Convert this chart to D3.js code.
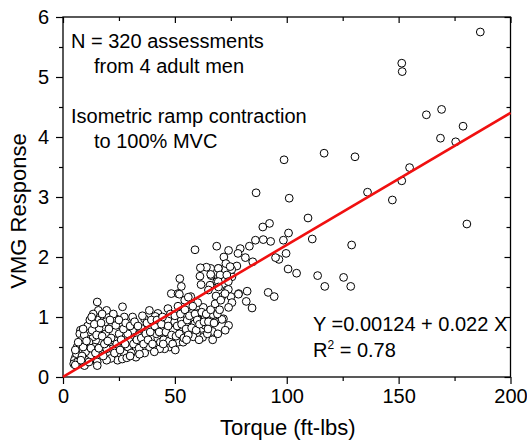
<!DOCTYPE html>
<html>
<head>
<meta charset="utf-8">
<script src="https://cdn.jsdelivr.net/npm/d3@7/dist/d3.min.js"></script>
<style>
  html, body { margin: 0; padding: 0; background: #fff; }
  svg { display: block; }
  text { font-family: Arial, "Liberation Sans", Helvetica, sans-serif; fill: #000; }
</style>
</head>
<body>
<svg id="chart" width="527" height="442"></svg>
<script>
// ---- data (torque in ft-lbs, VMG response) ----
const torque = [
  186.5,151.4,151.6,162.4,169.2,178.8,168.7,175.5,154.9,151.4,147.2,180.5,136.1,130.5,116.7,98.8,86.3,101.1,109.5,111.4,
  129.0,113.8,117.0,125.4,128.6,104.4,100.6,99.7,100.8,98.5,
  96.5,95.0,91.7,94.4,92.3,89.3,92.8,89.5,86.0,83.3,84.8,81.5,79.2,78.2,77.7,75.5,74.0,71.9,68.7,59.0,
  72.8,69.5,66.0,64.1,61.4,61.2,66.2,68.7,61.7,65.7,82.3,78.5,81.9,84.5,73.2,75.0,75.5,74.0,71.0,68.4,
  71.7,74.0,72.5,71.0,67.1,66.8,66.9,62.7,63.5,62.0,62.4,60.2,57.0,55.9,57.1,52.2,52.9,48.4,51.4,54.4,
  51.4,46.9,42.4,38.6,41.2,46.9,49.9,52.9,57.4,58.9,58.2,53.7,49.2,45.4,51.4,53.7,47.7,45.4,43.2,46.2,
  42.4,41.7,40.2,37.9,38.6,38.6,36.4,34.9,33.4,32.6,32.6,31.1,31.1,28.9,28.9,27.4,26.6,27.4,25.9,25.1,
  23.6,23.6,22.9,24.4,21.4,22.1,19.5,19.1,19.1,19.5,19.5,16.8,16.8,15.3,15.8,15.3,16.1,14.6,15.3,15.3,
  13.1,13.5,13.8,12.3,11.6,11.6,10.1,10.1,7.8,7.5,8.1,6.3,5.6,5.1,4.8,7.1,7.8,9.6,11.6,6.0,
  75.4,69.4,70.2,73.2,66.0,69.4,73.9,56.0,73.9,78.4,72.4,52.0,74.7,69.5,65.0,55.9,60.5,63.5,59.7,58.2,
  68.0,69.2,
  20.5,21.5,22.5,24.0,25.0,26.0,27.0,28.0,29.5,30.0,30.5,31.5,32.0,33.0,33.5,34.0,35.0,35.5,36.0,37.0,
  37.5,38.0,39.0,39.5,40.0,41.0,42.0,43.0,43.5,44.0,44.5,45.0,46.0,47.0,47.5,48.0,48.5,49.0,50.0,50.5,
  51.0,52.0,52.5,53.0,54.0,54.5,55.0,55.5,56.0,56.5,57.5,58.0,59.0,59.5,60.0,61.0,62.0,63.0,64.0,64.5,
  65.0,66.0,67.5,68.0,69.0,70.0,70.5,
  5.5,6.5,8.5,9.0,9.5,10.5,11.0,12.0,12.5,13.0,14.0,14.5,15.0,16.0,17.0,17.5,18.0,18.5,20.0,21.0,
  17.5,13.5,23.0,25.5,26.5,28.5,30.0,5.5,8.0,6.8,9.0,12.8,
  36.5,40.8,44.8,50.2,55.2,60.8,64.8,34.2,27.8
];
const vmg = [
  5.75,5.23,5.09,4.37,4.46,4.18,3.98,3.92,3.49,3.27,2.95,2.55,3.08,3.67,3.73,3.62,3.07,2.98,2.65,2.30,
  2.20,1.69,1.51,1.66,1.51,1.73,1.80,2.06,2.40,2.28,
  1.96,1.99,1.41,1.34,2.56,2.50,2.26,2.29,2.28,2.18,1.92,1.99,2.14,2.06,1.85,1.67,2.11,2.00,2.18,2.12,
  1.89,1.81,1.81,1.83,1.82,1.68,1.69,1.59,1.54,1.53,1.43,1.39,1.26,1.15,1.45,1.34,1.24,1.16,1.34,1.35,
  0.97,0.86,0.78,0.96,1.04,0.76,0.62,1.16,1.00,0.81,0.66,1.24,1.09,1.29,1.34,1.64,1.51,1.39,1.39,1.28,
  1.18,1.14,1.06,1.11,1.01,0.95,0.92,0.95,0.95,0.89,0.72,0.78,0.78,0.81,0.58,0.58,0.50,0.47,0.47,0.67,
  0.64,0.72,0.86,0.81,0.56,0.50,0.97,0.81,0.70,0.45,0.33,1.00,0.78,0.72,0.50,0.39,1.17,1.00,0.86,0.72,
  0.97,0.86,0.61,0.28,0.31,0.47,1.11,0.92,0.72,0.47,0.28,0.58,0.39,1.25,1.11,0.95,0.81,0.61,0.25,0.19,
  1.00,0.67,0.50,0.36,0.75,0.58,0.42,0.28,0.78,0.72,0.61,0.50,0.33,0.28,0.22,0.31,0.22,0.19,0.25,0.39,
  1.79,1.81,1.70,1.70,1.71,1.59,1.59,1.33,1.46,1.38,1.39,1.38,1.84,1.50,1.45,1.17,1.06,0.86,0.72,0.67,
  0.92,0.72,
  0.80,0.65,1.05,0.55,0.95,0.62,0.80,0.90,0.60,0.85,0.40,0.55,0.92,0.62,0.85,0.48,0.65,1.02,0.55,0.72,
  0.90,0.62,0.75,0.95,0.55,0.85,0.95,0.75,0.58,0.88,1.00,0.62,0.75,0.85,0.60,1.05,0.70,0.55,1.02,0.68,
  0.85,0.72,1.05,0.88,0.65,1.12,0.80,0.95,0.70,1.02,0.82,1.18,1.05,0.78,0.95,0.88,1.08,0.92,1.05,0.72,
  0.92,1.12,0.90,1.22,1.05,1.12,1.28,
  0.45,0.25,0.35,0.50,0.70,0.60,0.85,0.95,0.48,0.78,0.88,0.40,0.70,0.48,0.90,0.68,0.35,0.55,0.60,0.95,
  1.05,1.05,0.40,0.45,0.30,0.32,0.35,0.20,0.28,0.58,0.80,1.00,
  0.40,0.42,0.55,0.45,0.62,0.62,0.80,0.38,0.55
];
const xTicks = [0, 50, 100, 150, 200];
const xMinor = [25, 75, 125, 175];
const yTicks = [0, 1, 2, 3, 4, 5, 6];
const yMinor = [0.5, 1.5, 2.5, 3.5, 4.5, 5.5];
const fit = { intercept: 0.00124, slope: 0.022 };
const fitX = [0, 200];
const noteLines = ["N = 320 assessments", "from 4 adult men", "Isometric ramp contraction", "to 100% MVC"];
const eqText = "Y =0.00124 + 0.022 X";
const r2Text = "0.78";

// ---- layout ----
const svg = d3.select("#chart");
const L = 63, R = 510.5, T = 17, B = 377;
const x = d3.scaleLinear().domain([0, 200]).range([L, R]);
const y = d3.scaleLinear().domain([0, 6]).range([B, T]);
const tickFont = "20px";

function styleAxis(g) {
  g.select(".domain").remove();
  g.selectAll("line").attr("stroke", "#000").attr("stroke-width", 1.2);
  g.selectAll("text").style("font-size", tickFont)
    .style("font-family", "Arial, 'Liberation Sans', sans-serif").attr("fill", "#000");
}

// bottom axis
svg.append("g").attr("transform", `translate(0,${B})`)
  .call(d3.axisBottom(x).tickValues(xTicks).tickFormat(d3.format("d")).tickSize(7).tickPadding(5))
  .call(styleAxis);
svg.append("g").attr("transform", `translate(0,${B})`)
  .call(d3.axisBottom(x).tickValues(xMinor).tickFormat("").tickSize(4))
  .call(styleAxis);
// top axis (inward)
svg.append("g").attr("transform", `translate(0,${T})`)
  .call(d3.axisTop(x).tickValues(xTicks).tickFormat("").tickSize(-6))
  .call(styleAxis);
svg.append("g").attr("transform", `translate(0,${T})`)
  .call(d3.axisTop(x).tickValues(xMinor).tickFormat("").tickSize(-4))
  .call(styleAxis);
// left axis
svg.append("g").attr("transform", `translate(${L},0)`)
  .call(d3.axisLeft(y).tickValues(yTicks).tickFormat(d3.format("d")).tickSize(7).tickPadding(7))
  .call(styleAxis);
svg.append("g").attr("transform", `translate(${L},0)`)
  .call(d3.axisLeft(y).tickValues(yMinor).tickFormat("").tickSize(4))
  .call(styleAxis);
// right axis (inward)
svg.append("g").attr("transform", `translate(${R},0)`)
  .call(d3.axisRight(y).tickValues(yTicks).tickFormat("").tickSize(-6))
  .call(styleAxis);
svg.append("g").attr("transform", `translate(${R},0)`)
  .call(d3.axisRight(y).tickValues(yMinor).tickFormat("").tickSize(-4))
  .call(styleAxis);

// frame
svg.append("rect").attr("x", L).attr("y", T).attr("width", R - L).attr("height", B - T)
  .attr("fill", "none").attr("stroke", "#000").attr("stroke-width", 1.3);

// points
const pts = torque.map((t, i) => ({ t, v: vmg[i] }));
svg.append("g").selectAll("circle").data(pts).join("circle")
  .attr("cx", d => x(d.t)).attr("cy", d => y(d.v)).attr("r", 3.9)
  .attr("fill", "#fff").attr("stroke", "#000").attr("stroke-width", 1);

// regression line
const line = d3.line().x(d => x(d)).y(d => y(fit.intercept + fit.slope * d));
svg.append("path").datum(fitX).attr("d", line)
  .attr("fill", "none").attr("stroke", "#f01010").attr("stroke-width", 2.6);

// annotations
const noteFont = "20px";
const notePos = [[71, 48], [94, 73], [71, 123], [94, 148]];
noteLines.forEach((s, i) => {
  svg.append("text").attr("x", notePos[i][0]).attr("y", notePos[i][1])
    .style("font-size", noteFont).text(s);
});
svg.append("text").attr("x", 313).attr("y", 331).style("font-size", noteFont).text(eqText);
const r2 = svg.append("text").attr("x", 313).attr("y", 357).style("font-size", noteFont);
r2.append("tspan").text("R");
r2.append("tspan").attr("dy", -8).style("font-size", "12px").text("2");
r2.append("tspan").attr("dy", 8).text(" = " + r2Text);

// axis titles
svg.append("text").attr("x", (L + R) / 2 + 1).attr("y", 435)
  .attr("text-anchor", "middle").style("font-size", "22px").text("Torque (ft-lbs)");
svg.append("text").attr("transform", "translate(26,211) rotate(-90)")
  .attr("text-anchor", "middle").style("font-size", "22px").text("VMG Response");
</script>
</body>
</html>
